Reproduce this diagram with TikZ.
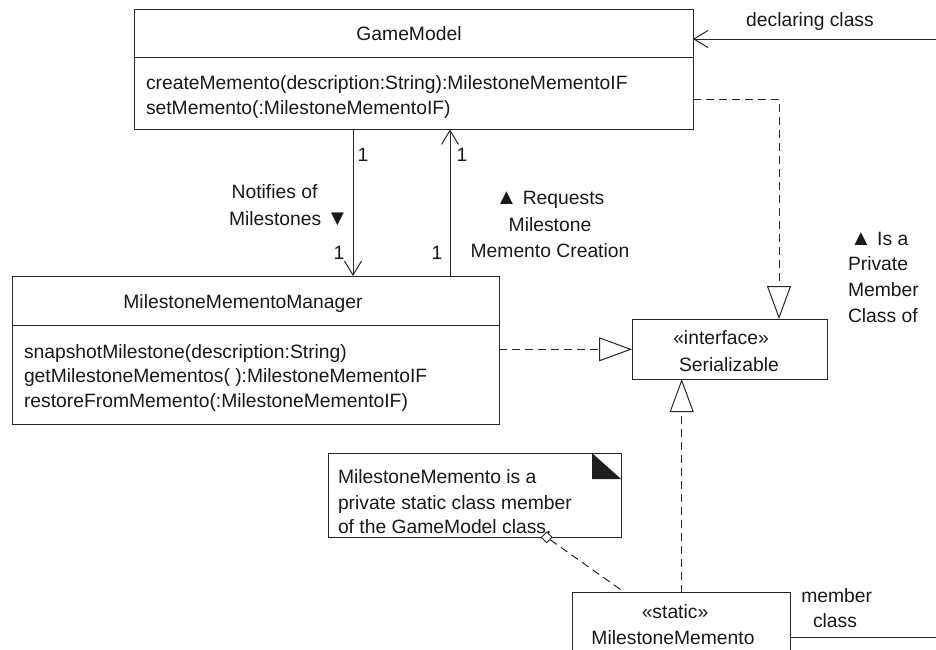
\documentclass[tikz,border=0pt]{standalone}
\usepackage{fontspec}
\setmainfont{Liberation Sans}
\usetikzlibrary{arrows.meta,shapes.geometric}
\newcommand{\fsz}{\fontsize{19.3}{24.5}\selectfont}
\newcommand{\tri}[1]{{\fontsize{22}{22}\selectfont #1}}
\begin{document}
\begin{tikzpicture}[x=1pt,y=-1pt, line width=1pt,
  box/.style={draw=black!85, line width=1pt, anchor=north west, inner sep=0pt, outer sep=0pt},
  txt/.style={inner sep=0pt, outer sep=0pt, font=\fsz, text=black!90},
  lt/.style={txt, anchor=base west},
  ct/.style={txt, anchor=base},
  ln/.style={draw=black!85},
  dsh/.style={ln, dash pattern=on 8pt off 5pt},
  assoc/.style={ln, -{Straight Barb[length=14pt,width=17pt,line width=1pt]}},
  real/.style={dsh, -{Triangle[open,length=33pt,width=24pt,line width=1pt]}}]
\clip (0,0) rectangle (936,649);
\fill[white] (0,0) rectangle (936,649);

% GameModel
\node[box, minimum width=559pt, minimum height=120.5pt] (gm) at (134,9) {};
\draw[ln] (134,57) -- (693,57);
\node[ct] (gmname) at (409,40) {GameModel};
\node[lt] (gm1) at (146,89) {createMemento(description:String):MilestoneMementoIF};
\node[lt] (gm2) at (146,114) {setMemento(:MilestoneMementoIF)};

% MilestoneMementoManager
\node[box, minimum width=487pt, minimum height=148pt] (mgr) at (12,276) {};
\draw[ln] (12,325) -- (499,325);
\node[ct] (mgrname) at (243,308) {MilestoneMementoManager};
\node[lt] (mgr1) at (24,358) {snapshotMilestone(description:String)};
\node[lt] (mgr2) at (24,382) {getMilestoneMementos( ):MilestoneMementoIF};
\node[lt] (mgr3) at (24,407) {restoreFromMemento(:MilestoneMementoIF)};

% Serializable
\node[box, minimum width=195pt, minimum height=60pt] (ser) at (632,319) {};
\node[ct] (ser1) at (721,344) {«interface»};
\node[ct] (ser2) at (729,371) {Serializable};

% MilestoneMemento
\node[box, minimum width=218.7pt, minimum height=90pt] (mm) at (572,592.7) {};
\node[ct] (mm1) at (675,618) {«static»};
\node[ct] (mm2) at (673,644) {MilestoneMemento};

% Note
\node[box, minimum width=293pt, minimum height=84pt] (note) at (328,453) {};
\fill[black!88] (592,453) -- (592,479) -- (621,479) -- cycle;
\node[lt] (n1) at (338,483) {MilestoneMemento is a};
\node[lt] (n2) at (338,509) {private static class member};
\node[lt] (n3) at (338,533) {of the GameModel class.};
\node[draw=black!85, fill=white, diamond, minimum size=11pt, inner sep=0pt, line width=0.9pt] (dia) at (546.7,537.3) {};

% helper coordinates
\coordinate (xA) at (353,0);
\coordinate (xB) at (450,0);
\coordinate (xR) at (779,0);
\coordinate (xM) at (681.7,0);
\coordinate (yR) at (0,99.3);
\coordinate (yS) at (0,349.3);
\coordinate (mmDia) at (625,592.7);
\coordinate (declEnd) at (936,39);
\coordinate (memEnd) at (936,637.3);

% connectors
\draw[assoc] (gm.south -| xA) -- (mgr.north -| xA);
\draw[assoc] (mgr.north -| xB) -- (gm.south -| xB);
\draw[assoc] (declEnd) -- (declEnd -| gm.east);
\draw[ln] (mm.east |- memEnd) -- (memEnd);
\draw[real] (gm.east |- yR) -| (ser.north -| xR);
\draw[real] (mgr.east |- yS) -- (ser.west |- yS);
\draw[real] (mm.north -| xM) -- (ser.south -| xM);
\draw[dsh] (dia) -- (mmDia);

% labels
\node[ct] (m1) at (363,161) {1};
\node[ct] (m2) at (462,161) {1};
\node[ct] (m3) at (339,259) {1};
\node[ct] (m4) at (437,259) {1};
\node[lt] (l1) at (231.6,198) {Notifies of};
\node[lt] (l2) at (229,225) {Milestones \tri{▼}};
\node[ct] (r1) at (550,204) {\tri{▲} Requests};
\node[ct] (r2) at (550,231) {Milestone};
\node[ct] (r3) at (550,257) {Memento Creation};
\node[lt] (p1) at (850,245) {\tri{▲} Is a};
\node[lt] (p2) at (848,270) {Private};
\node[lt] (p3) at (848,296) {Member};
\node[lt] (p4) at (848,322) {Class of};
\node[ct] (dc) at (810,26) {declaring class};
\node[ct] (mc1) at (836.7,602) {member};
\node[ct] (mc2) at (835,627) {class};
\end{tikzpicture}
\end{document}
